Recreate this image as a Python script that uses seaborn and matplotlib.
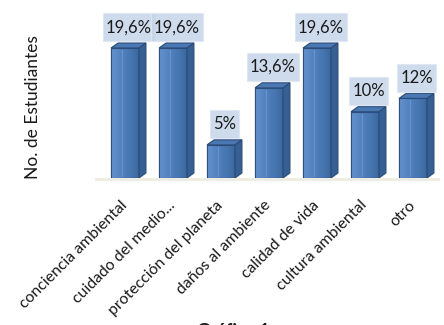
import matplotlib
matplotlib.use("Agg")
import numpy as np
import pandas as pd
import matplotlib.pyplot as plt
import seaborn as sns
from matplotlib.patches import Polygon, Rectangle
from matplotlib.colors import LinearSegmentedColormap

# Survey results: share of students per answer
categorias = ["conciencia ambiental", "cuidado del medio...", "protección del planeta",
              "daños al ambiente", "calidad de vida", "cultura ambiental", "otro"]
porcentajes = [19.6, 19.6, 5, 13.6, 19.6, 10, 12]
etiquetas = ["19,6%", "19,6%", "5%", "13,6%", "19,6%", "10%", "12%"]

sns.set_theme(style="white")
plt.rcParams["font.family"] = ["Lato", "DejaVu Sans"]

W, H = 444, 325
fig = plt.figure(figsize=(W / 100, H / 100), dpi=100)
fig.patch.set_facecolor("white")
ax = fig.add_axes([101 / W, (H - 178) / H, 336 / W, 168 / H])

df = pd.DataFrame({"categoria": categorias, "porcentaje": porcentajes})
sns.barplot(data=df, x="categoria", y="porcentaje", ax=ax, color="#4a7ab5",
            width=0.58, saturation=1, edgecolor="#2d4f7f", linewidth=0.8, zorder=3)

ymax = 19.6 * 168 / 130
ax.set_xlim(-0.5, 6.5)
ax.set_ylim(0, ymax)

# depth of the pseudo-3D extrusion, in data units
dx = 7 / 48
dy = 5 * ymax / 168

front_cmap = LinearSegmentedColormap.from_list(
    "front", ["#6592cc", "#5787c4", "#4d7dbb", "#4574ae", "#3d689f"])
grad = np.linspace(0, 1, 64).reshape(1, -1)

bars = list(ax.patches)
for p in bars:
    x0, w, h = p.get_x(), p.get_width(), p.get_height()
    x1 = x0 + w
    # shaded front face
    im = ax.imshow(grad, extent=[x0, x1, 0, h], cmap=front_cmap, aspect="auto",
                   origin="lower", zorder=3.5)
    im.set_clip_path(p)
    # thin highlight near the left of the front face
    ax.plot([x0 + w * 0.38, x0 + w * 0.38], [0.3, h - 0.3], color="#7ea3d3",
            lw=0.8, alpha=0.6, zorder=3.6)
    ax.add_patch(Rectangle((x0, 0), w, h, fill=False, edgecolor="#2d4f7f",
                           lw=0.8, zorder=3.7))
    # side face
    ax.add_patch(Polygon([(x1, 0), (x1 + dx, dy), (x1 + dx, h + dy), (x1, h)],
                         closed=True, facecolor="#365f94", edgecolor="#2a4a78",
                         lw=0.8, zorder=3.8))
    # top face
    ax.add_patch(Polygon([(x0, h), (x0 + dx, h + dy), (x1 + dx, h + dy), (x1, h)],
                         closed=True, facecolor="#4a78b2", edgecolor="#2a4a78",
                         lw=0.8, zorder=3.9))

ax.set_xlim(-0.5, 6.5)
ax.set_ylim(0, ymax)

# value labels above each bar
labels = []
for p, txt in zip(bars, etiquetas):
    cx = p.get_x() + p.get_width() / 2 + dx / 2
    labels.append(ax.annotate(txt, xy=(cx, p.get_height()), xytext=(0, 15),
                              textcoords="offset points", ha="center", va="center",
                              fontsize=12, color="#1a1a1a", zorder=6,
                              annotation_clip=False))

# light boxes behind the value labels (a little wider than the text, much taller)
fig.canvas.draw()
renderer = fig.canvas.get_renderer()
for t in labels:
    bb = t.get_window_extent(renderer)
    cxp, cyp = (bb.x0 + bb.x1) / 2, (bb.y0 + bb.y1) / 2
    bw, bh = bb.width + 6, 28
    ax.add_patch(Rectangle(((cxp - bw / 2) / W, (cyp - bh / 2) / H), bw / W, bh / H,
                           transform=fig.transFigure, facecolor="#c6d5e9",
                           edgecolor="#dfe7f2", lw=0.8, alpha=0.85, zorder=5,
                           clip_on=False))

# soft floor shadow under the bars
fig.patches.append(Rectangle((95 / W, (H - 181) / H), 345 / W, 3 / H,
                             transform=fig.transFigure, facecolor="#efece4",
                             edgecolor="none", zorder=-1))

ax.set_yticks([])
ax.set_xticks(range(len(categorias)))
ax.set_xticklabels(categorias, rotation=45, ha="right", va="center",
                   rotation_mode="anchor", fontsize=11.4, color="#1a1a1a")
ax.tick_params(axis="x", length=0, pad=18)
ax.set_xlabel("")
ax.set_ylabel("")
sns.despine(ax=ax, left=True, bottom=True)
ax.set_facecolor("none")

fig.text(33 / W, 1 - 107 / H, "No. de Estudiantes", rotation=90, ha="center",
         va="center", fontsize=12.5, color="#1a1a1a")

fig.text(197 / W, (H - 337) / H, "Gráfica 1", fontsize=13, fontweight="bold",
         color="#1a1a1a", ha="left", va="baseline")

fig.savefig("out.png", dpi=100)
